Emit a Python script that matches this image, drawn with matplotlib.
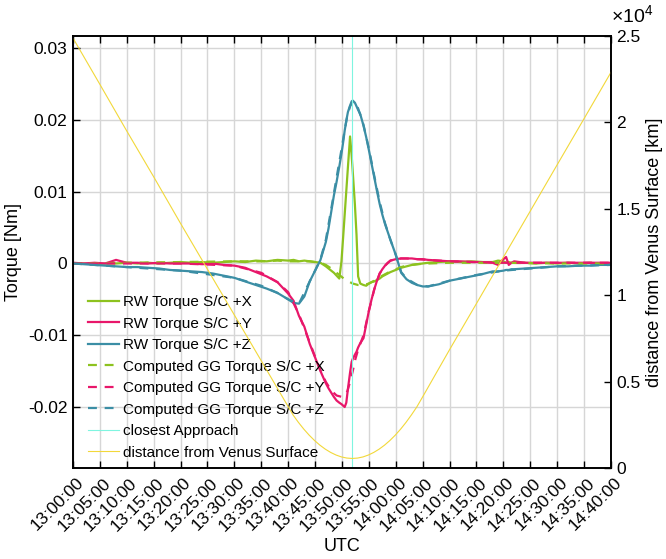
import numpy as np
import matplotlib
matplotlib.use('Agg')
import matplotlib.pyplot as plt
import matplotlib.dates as mdates
import matplotlib.transforms as mtransforms
from matplotlib.ticker import FuncFormatter, FixedLocator

plt.rcParams['font.family'] = ['Liberation Sans', 'DejaVu Sans']
plt.rcParams['mathtext.fontset'] = 'custom'
plt.rcParams['mathtext.rm'] = 'Liberation Sans'

# minutes after 13:00:00 UTC (2021-08-10)
t_rw = [0, 2, 4, 6, 8, 10, 12, 14, 16, 18, 20, 22, 24, 26, 28, 30, 32, 34, 36, 38,
        40, 41, 42, 43, 44, 45, 46, 47, 47.5, 48, 48.5, 49, 49.5, 49.9,
        50.2, 50.5, 50.8, 51.1, 51.5, 51.8, 52.0, 52.4, 52.7, 53.0, 53.4,
        54.0, 54.5, 55, 55.5, 56, 56.5, 57, 57.5, 58, 58.5, 59,
        60, 61, 62, 63, 64, 65, 66, 68, 70, 72, 74, 76, 78,
        79, 80, 80.5, 81, 81.5, 82, 84, 86, 88, 90, 92, 94, 96, 98, 100]

rw_x = [0.0000, 0.0000, -0.0001, 0.0000, 0.0000, 0.0001, 0.0000, 0.0001, 0.0000, 0.0001,
        0.0002, 0.0001, 0.0002, 0.0001, 0.0002, 0.0003, 0.0002, 0.0004, 0.0003, 0.0005,
        0.0004, 0.0005, 0.0003, 0.0004, 0.0003, 0.0002, 0.0001, -0.0004, -0.0007, -0.0010,
        -0.0013, -0.0017, -0.0021, 0.0003,
        0.0035, 0.0068, 0.0101, 0.0134, 0.0177, 0.0150, 0.0128, 0.0082, 0.0040, -0.0018, -0.0028,
        -0.0030, -0.0031, -0.0028, -0.0026, -0.0025, -0.0023, -0.0021, -0.0018, -0.0016, -0.0014, -0.0012,
        -0.0009, -0.0006, -0.0004, -0.0002, -0.0001, 0.0000, 0.0001, 0.0002, 0.0003, 0.0002, 0.0003, 0.0002, 0.0002,
        0.0004, 0.0003, 0.0001, 0.0002, 0.0001, 0.0001, 0.0001, 0.0000, 0.0001, 0.0000, 0.0001, 0.0000, 0.0001, 0.0000, 0.0000]

rw_y = [0.0001, 0.0000, 0.0001, 0.0000, 0.0005, 0.0001, 0.0001, 0.0000, 0.0001, 0.0000,
        0.0000, 0.0000, -0.0001, 0.0000, -0.0002, -0.0003, -0.0006, -0.0012, -0.0018, -0.0026,
        -0.0042, -0.0052, -0.0073, -0.0088, -0.0112, -0.0131, -0.0150, -0.0167, -0.0174, -0.0180,
        -0.0186, -0.0191, -0.0194, -0.0196,
        -0.0198, -0.0200, -0.0194, -0.0175, -0.0152, -0.0137, -0.0133, -0.0127, -0.0123, -0.0117, -0.0111,
        -0.0104, -0.0085, -0.0066, -0.0050, -0.0036, -0.0024, -0.0014, -0.0008, -0.0003, 0.0001, 0.0004,
        0.0006, 0.0007, 0.0007, 0.0007, 0.0006, 0.0006, 0.0005, 0.0004, 0.0003, 0.0003, 0.0002, 0.0002, 0.0001,
        -0.0002, 0.0006, 0.0009, -0.0002, 0.0001, 0.0003, 0.0001, 0.0001, 0.0001, 0.0001, 0.0001, 0.0001, 0.0001, 0.0001, 0.0001]

rw_z = [0.0000, -0.0001, -0.0002, -0.0003, -0.0004, -0.0005, -0.0005, -0.0006, -0.0007, -0.0009,
        -0.0010, -0.0011, -0.0012, -0.0014, -0.0017, -0.0020, -0.0025, -0.0030, -0.0035, -0.0041,
        -0.0050, -0.0055, -0.0056, -0.0046, -0.0025, -0.0010, 0.0005, 0.0030, 0.0049, 0.0072,
        0.0095, 0.0114, 0.0135, 0.0153,
        0.0168, 0.0185, 0.0199, 0.0211, 0.0220, 0.0226, 0.0227, 0.0224, 0.0219, 0.0214, 0.0208,
        0.0192, 0.0176, 0.0158, 0.0139, 0.0120, 0.0101, 0.0083, 0.0068, 0.0055, 0.0044, 0.0033,
        0.0012, -0.0013, -0.0022, -0.0027, -0.0030, -0.0032, -0.0032, -0.0029, -0.0024, -0.0021, -0.0018, -0.0015, -0.0011,
        -0.0011, -0.0010, -0.0009, -0.0009, -0.0008, -0.0008, -0.0007, -0.0006, -0.0005, -0.0004, -0.0004, -0.0003, -0.0003, -0.0002, -0.0002]

t_gg = [0, 10, 20, 30, 35, 38, 40, 42, 44, 45, 46, 47, 48, 49, 50, 50.5, 51, 51.5,
        52, 52.5, 53, 53.5, 54, 55, 56, 57, 58, 59, 60, 61, 62, 64, 66, 70, 75, 80, 90, 100]

gg_x = [0.0000, 0.0001, 0.0002, 0.0003, 0.0003, 0.0004, 0.0003, 0.0003, 0.0003, 0.0002, 0.0001,
        -0.0002, -0.0007, -0.0013, -0.0019, -0.0022, -0.0024, -0.0026,
        -0.0028, -0.0029, -0.0030, -0.0030, -0.0030, -0.0028, -0.0024, -0.0019, -0.0015, -0.0011,
        -0.0008, -0.0005, -0.0003, -0.0001, 0.0000, 0.0001, 0.0001, 0.0001, 0.0000, 0.0000]

gg_y = [0.0000, 0.0000, 0.0000, -0.0003, -0.0013, -0.0026, -0.0040, -0.0071, -0.0110, -0.0130, -0.0149,
        -0.0165, -0.0177, -0.0184, -0.0186, -0.0184, -0.0178, -0.0165,
        -0.0150, -0.0133, -0.0120, -0.0110, -0.0100, -0.0066, -0.0036, -0.0014, -0.0003, 0.0004,
        0.0006, 0.0007, 0.0007, 0.0006, 0.0005, 0.0003, 0.0002, 0.0001, 0.0001, 0.0001]

gg_z = [0.0000, -0.0005, -0.0010, -0.0020, -0.0031, -0.0041, -0.0050, -0.0056, -0.0025, -0.0010, 0.0006,
        0.0033, 0.0076, 0.0120, 0.0163, 0.0186, 0.0206, 0.0219,
        0.0225, 0.0224, 0.0216, 0.0205, 0.0193, 0.0160, 0.0122, 0.0086, 0.0056, 0.0033,
        0.0012, -0.0012, -0.0021, -0.0030, -0.0032, -0.0024, -0.0016, -0.0010, -0.0004, -0.0002]

t_dist = [0, 5, 10, 15, 20, 25, 30, 35, 40, 40.9, 41.9, 42.9, 43.9, 44.9, 45.9, 46.9, 47.9,
          48.9, 49.9, 50.9, 51.9, 52.9, 53.9, 54.9, 55.9, 56.9, 57.9, 58.9, 59.9, 60.9,
          61.9, 62.9, 63.9, 65, 70, 75, 80, 85, 90, 95, 100]
dist_km = [24880, 22200, 19500, 16850, 14150, 11500, 8850, 6200, 3550, 3070, 2640, 2250, 1900,
           1590, 1320, 1090, 900, 750, 640, 575, 552, 575, 640, 750, 900, 1090, 1320, 1590,
           1900, 2250, 2640, 3070, 3530, 4120, 6850, 9520, 12200, 14870, 17550, 20220, 22900]

t_ca = 51.9   # 13:51:54 closest approach

base = np.datetime64('2021-08-10T13:00:00')


def to_time(minutes):
    sec = np.round(np.asarray(minutes, dtype=float) * 60).astype(int)
    return base + sec.astype('timedelta64[s]')


c_x = '#8dc21f'
c_y = '#e8176a'
c_z = '#3b8ea5'
c_ca = '#7ff5e0'
c_dist = '#f2d83a'

fig = plt.figure(figsize=(6.66, 5.59), dpi=100)
ax = fig.add_axes([0.1096, 0.1628, 0.8078, 0.7728])
ax2 = ax.twinx()

lines = []
lines += ax.plot(to_time(t_rw), rw_x, color=c_x, lw=1.6, label='RW Torque S/C +X')
lines += ax.plot(to_time(t_rw), rw_y, color=c_y, lw=1.6, label='RW Torque S/C +Y')
lines += ax.plot(to_time(t_rw), rw_z, color=c_z, lw=1.6, label='RW Torque S/C +Z')
lines += ax.plot(to_time(t_gg), gg_x, color=c_x, lw=1.6, dashes=(4, 3.5), label='Computed GG Torque S/C +X')
lines += ax.plot(to_time(t_gg), gg_y, color=c_y, lw=1.6, dashes=(4, 3.5), label='Computed GG Torque S/C +Y')
lines += ax.plot(to_time(t_gg), gg_z, color=c_z, lw=1.6, dashes=(4, 3.5), label='Computed GG Torque S/C +Z')
lines.append(ax.axvline(to_time([t_ca])[0], color=c_ca, lw=0.8, label='closest Approach'))
lines += ax2.plot(to_time(t_dist), dist_km, color=c_dist, lw=0.8, label='distance from Venus Surface')

ax.set_xlim(to_time([0])[0], to_time([100])[0])
ax.set_ylim(-0.0285, 0.0317)
ax2.set_ylim(0, 25000)

ax.xaxis.set_major_locator(mdates.MinuteLocator(byminute=range(0, 60, 5)))
ax.xaxis.set_major_formatter(mdates.DateFormatter('%H:%M:%S'))
ax.yaxis.set_major_locator(FixedLocator([-0.02, -0.01, 0, 0.01, 0.02, 0.03]))
ax.yaxis.set_major_formatter(FuncFormatter(lambda v, p: '%g' % round(v, 4)))
ax2.yaxis.set_major_locator(FixedLocator([0, 5000, 10000, 15000, 20000, 25000]))
ax2.yaxis.set_major_formatter(FuncFormatter(lambda v, p: '%g' % (v / 1e4)))

ax.tick_params(axis='x', direction='in', top=True, length=5, width=1, labelsize=12.5, pad=9)
ax.tick_params(axis='y', direction='in', right=False, length=5, width=1, labelsize=12.5, pad=4)
ax2.tick_params(axis='y', direction='in', length=5, width=1, labelsize=12.5, pad=4)
shift = mtransforms.ScaledTranslation(8 / 100, 0, fig.dpi_scale_trans)
for lab in ax.get_xticklabels():
    lab.set_rotation(45)
    lab.set_ha('right')
    lab.set_va('center')
    lab.set_rotation_mode('anchor')
    lab.set_transform(lab.get_transform() + shift)

ax.grid(True, color='#d6d6d6', lw=1)
ax.set_axisbelow(True)
for a in (ax, ax2):
    for s in a.spines.values():
        s.set_linewidth(1.2)

ax.set_xlabel('UTC', fontsize=13)
ax.xaxis.set_label_coords(0.5, -0.162)
ax.set_ylabel('Torque [Nm]', fontsize=13)
ax2.set_ylabel('distance from Venus Surface [km]', fontsize=13)
ax2.text(1.0, 1.02, r'$\times10^{4}$', transform=ax2.transAxes, ha='left', va='bottom', fontsize=14)

ax.legend(handles=lines, loc='lower left', bbox_to_anchor=(0.0167, 0.005), borderaxespad=0,
          frameon=False, fontsize=11, handlelength=2.0, handletextpad=0.3, labelspacing=0.49)

fig.savefig('out.png', dpi=100)
